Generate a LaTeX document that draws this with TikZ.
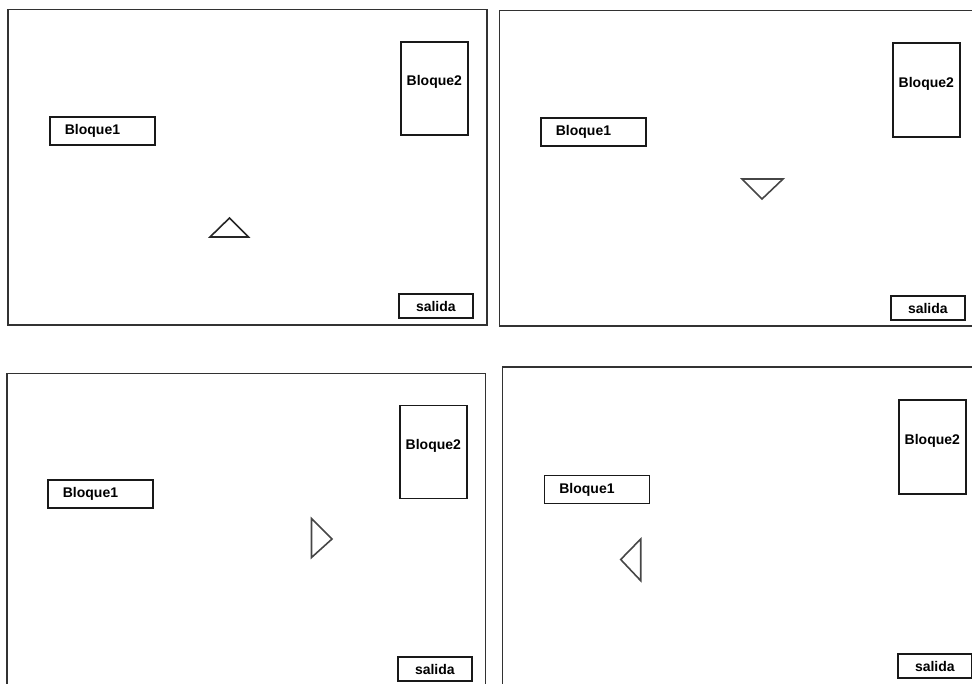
\documentclass[tikz,border=0pt]{standalone}
\usepackage{fontspec}
\setmainfont{Liberation Sans}
\usepackage{tikz}
\usetikzlibrary{positioning}
\definecolor{marco}{RGB}{50,50,50}
\definecolor{flecha}{RGB}{70,70,70}
\tikzset{
  panel/.style={draw=marco, line width=1.7pt},
  bloqueh/.style={draw=black!90, line width=1.7pt, anchor=north west, align=left,
    text width=75pt, inner xsep=15pt, inner ysep=0pt, text height=18pt, text depth=10pt,
    font=\fontsize{14}{16}\selectfont\bfseries},
  bloquev/.style={draw=black!90, line width=1.7pt, anchor=north west, align=center,
    text width=67pt, inner xsep=0pt, inner ysep=0pt, text height=44pt, text depth=49pt,
    font=\fontsize{14}{16}\selectfont\bfseries},
  salidabox/.style={draw=black!90, line width=1.7pt, anchor=north west, align=center,
    text width=74pt, inner xsep=0pt, inner ysep=0pt, text height=18pt, text depth=6pt,
    font=\fontsize{14}{16}\selectfont\bfseries},
  nave/.style={draw=flecha, line width=1.6pt, line join=miter}
}
\begin{document}
\begin{tikzpicture}[x=1pt, y=-1pt]
  \useasboundingbox (0,0) rectangle (972,683);
  \clip (0,0) rectangle (972,683);

  % arriba izquierda
  \draw[panel] (8,9.5) rectangle (487,325);
  \node[bloqueh] (b1a) at (49,116) {Bloque1};
  \node[bloquev] (b2a) at (400,41) {Bloque2};
  \node[salidabox] (sala) at (398,293) {salida};
  \draw[nave, draw=black!85] (210,237) -- (248.5,237) -- (229.5,218) -- cycle;

  % arriba derecha
  \draw[panel] (499.5,10.5) rectangle (990,326);
  \node[bloqueh] (b1b) at (540,117) {Bloque1};
  \node[bloquev, minimum height=94pt] (b2b) at (892,42) {Bloque2};
  \node[salidabox] (salb) at (890,295) {salida};
  \draw[nave] (742,179) -- (783,179) -- (762,199) -- cycle;

  % abajo izquierda
  \draw[panel] (7,373.5) rectangle (485.5,700);
  \node[bloqueh] (b1c) at (47,479) {Bloque1};
  \node[bloquev] (b2c) at (399,404.5) {Bloque2};
  \node[salidabox] (salc) at (397,656) {salida};
  \draw[nave] (311.5,518.5) -- (311.5,557.5) -- (332,539) -- cycle;

  % abajo derecha
  \draw[panel] (502.5,367) rectangle (990,700);
  \node[bloqueh] (b1d) at (543.5,474.5) {Bloque1};
  \node[bloquev, minimum height=94pt] (b2d) at (898,399) {Bloque2};
  \node[salidabox] (sald) at (897,653) {salida};
  \draw[nave] (640.7,539) -- (640.7,580.7) -- (620.7,559.5) -- cycle;
\end{tikzpicture}
\end{document}
